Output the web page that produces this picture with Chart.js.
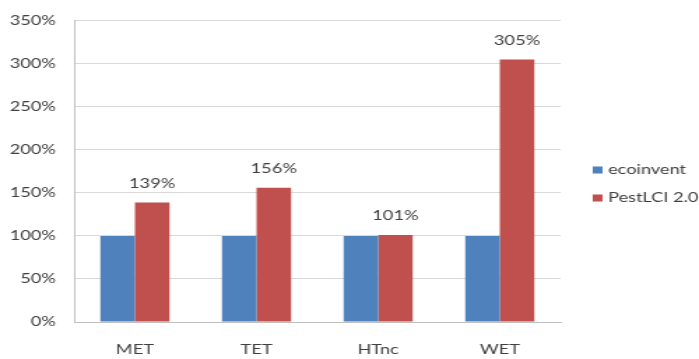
<!DOCTYPE html>
<html><head><meta charset="utf-8">
<script src="https://cdn.jsdelivr.net/npm/chart.js@4"></script>
<style>html,body{margin:0;padding:0;background:#fff;overflow:hidden}</style>
</head><body>
<canvas id="c" width="500" height="359" style="display:block;width:699px;height:359px"></canvas>
<script>
const categories = ["MET", "TET", "HTnc", "WET"];
const ecoinvent = [100, 100, 100, 100];
const pestlci = [139, 156, 101, 305];
const seriesNames = ["ecoinvent", "PestLCI 2.0"];
const seriesColors = ["#4F81BD", "#C0504D"];
const yMin = 0, yMax = 350, yStep = 50;

const FONT = "Lato, 'Open Sans', sans-serif";
const TXT = "#404040";

const valueLabels = {
  id: 'valueLabels',
  afterDatasetsDraw(chart) {
    const ctx = chart.ctx;
    const meta = chart.getDatasetMeta(1);
    ctx.save();
    ctx.font = "13px " + FONT;
    ctx.fillStyle = TXT;
    ctx.textAlign = 'center';
    ctx.textBaseline = 'middle';
    meta.data.forEach((bar, i) => {
      ctx.fillText(chart.data.datasets[1].data[i] + '%', bar.x, bar.y - 19);
    });
    ctx.restore();
  }
};

const sideLegend = {
  id: 'sideLegend',
  afterDraw(chart) {
    const ctx = chart.ctx;
    const ys = [170, 198];
    ctx.save();
    ctx.font = "13px " + FONT;
    ctx.textBaseline = 'middle';
    ctx.textAlign = 'left';
    chart.data.datasets.forEach((ds, i) => {
      ctx.fillStyle = ds.backgroundColor;
      ctx.fillRect(424, ys[i] - 3.5, 7, 7);
      ctx.fillStyle = TXT;
      ctx.fillText(ds.label, 435, ys[i]);
    });
    ctx.restore();
  }
};

new Chart(document.getElementById('c'), {
  type: 'bar',
  data: {
    labels: categories,
    datasets: [
      { label: seriesNames[0], data: ecoinvent, backgroundColor: seriesColors[0] },
      { label: seriesNames[1], data: pestlci, backgroundColor: seriesColors[1] }
    ]
  },
  options: {
    responsive: false,
    animation: false,
    devicePixelRatio: 1,
    layout: { padding: { top: 18, right: 99, bottom: 0, left: 0 } },
    datasets: { bar: { categoryPercentage: 0.568, barPercentage: 1 } },
    plugins: { legend: { display: false }, tooltip: { enabled: false } },
    scales: {
      x: {
        grid: { display: false, drawTicks: false },
        border: { display: true, color: '#bfbfbf' },
        ticks: { font: { family: FONT, size: 13 }, color: TXT, padding: 20 },
        afterFit(s) { s.height = 37; }
      },
      y: {
        min: yMin, max: yMax,
        grid: { color: '#d9d9d9', drawTicks: false },
        border: { display: true, color: '#bfbfbf' },
        ticks: { stepSize: yStep, font: { family: FONT, size: 13 }, color: TXT, padding: 13,
                 callback: v => v + '%' },
        afterFit(s) { s.width = 53; }
      }
    }
  },
  plugins: [valueLabels, sideLegend]
});
</script>
</body></html>
